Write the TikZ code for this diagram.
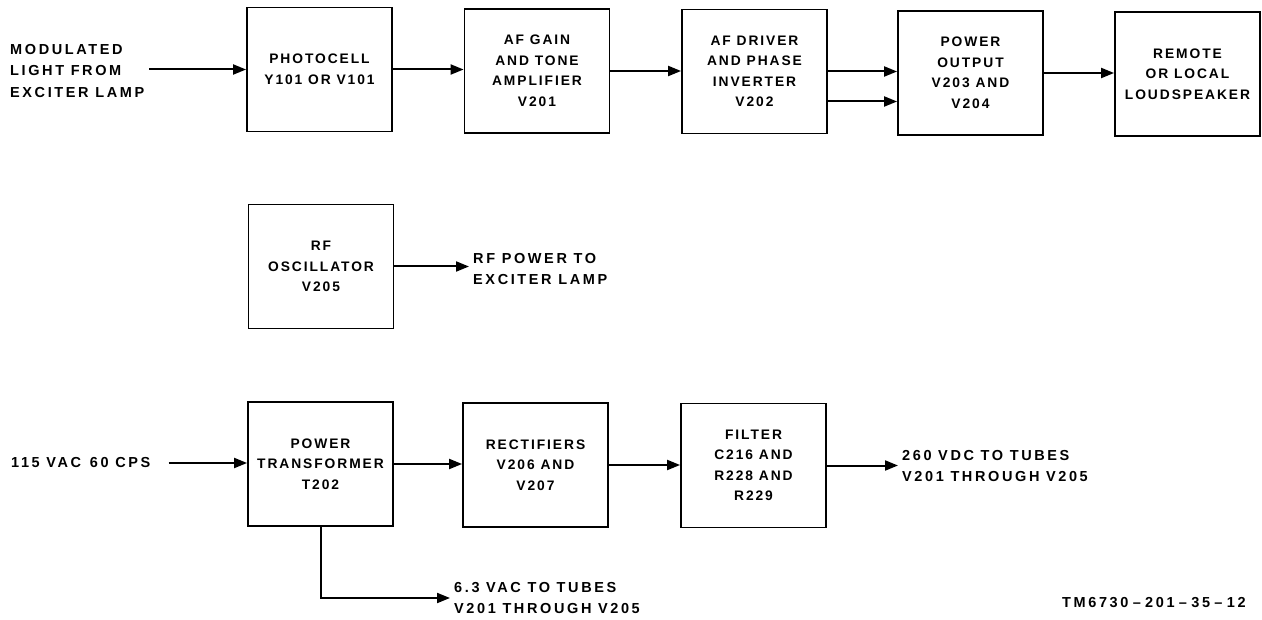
\documentclass[tikz,border=0pt]{standalone}
\usepackage{fontspec}
\setmainfont{Liberation Sans}[LetterSpace=18]
\newfontfamily\boxfont{Liberation Sans}[LetterSpace=14]
\usetikzlibrary{arrows.meta,calc}
\begin{document}
\begin{tikzpicture}[x=1pt,y=-1pt,
  blk/.style={draw,line width=1.8pt,minimum width=145pt,minimum height=124pt,inner sep=0pt,align=center,
    font=\boxfont\bfseries\fontsize{13.8}{20.5}\selectfont},
  lbl/.style={align=left,inner sep=4pt,font=\bfseries\fontsize{14.5}{21.5}\selectfont},
  arr/.style={line width=2pt,-{Triangle[length=13pt,width=10pt]}},
  ln/.style={line width=2pt}]
\useasboundingbox (0,0) rectangle (1262,620);
% top row
\node[blk] (pc)  at (319.5,69.5) {PHOTOCELL\\Y101 OR V101};
\node[blk] (afg) at (537,71) {AF GAIN\\AND TONE\\AMPLIFIER\\V201};
\node[blk] (afd) at (754.5,71.5) {AF DRIVER\\AND PHASE\\INVERTER\\V202};
\node[blk] (po)  at (970.5,73) {POWER\\OUTPUT\\V203 AND\\V204};
\node[blk] (ls)  at (1187.5,74) {REMOTE\\OR LOCAL\\LOUDSPEAKER};
\node[lbl,anchor=west] (in) at (6,71) {MODULATED\\LIGHT FROM\\EXCITER LAMP};
\draw[arr] ([xshift=1pt]in.east |- pc.west) -- (pc.west);
\draw[arr] (pc.east) -- (pc.east -| afg.west);
\draw[arr] (afg.east) -- (afg.east -| afd.west);
\draw[arr] (afd.east) -- (afd.east -| po.west);
\draw[arr] ($(afd.east)+(0,30)$) -- ($(afd.east -| po.west)+(0,30)$);
\draw[arr] (po.east) -- (po.east -| ls.west);
% middle
\node[blk] (rf) at (321,266.5) {RF\\OSCILLATOR\\V205};
\node[lbl,anchor=west] (rfo) at (469,269) {RF POWER TO\\EXCITER LAMP};
\draw[arr] (rf.east) -- (rf.east -| rfo.west);
% bottom row
\node[blk] (pt)   at (320.5,464) {POWER\\TRANSFORMER\\T202};
\node[blk] (rect) at (535.5,465) {RECTIFIERS\\V206 AND\\V207};
\node[blk] (filt) at (753.5,465.5) {FILTER\\C216 AND\\R228 AND\\R229};
\node[lbl,anchor=west] (vin) at (7,463) {115 VAC\hspace{0.6em}60 CPS};
\draw[arr] ([xshift=14pt]vin.east) -- (vin.east -| pt.west);
\draw[arr] (pt.east) -- (pt.east -| rect.west);
\draw[arr] (rect.east) -- (rect.east -| filt.west);
\node[lbl,anchor=west] (vdc) at (898,466) {260 VDC TO TUBES\\V201 THROUGH V205};
\draw[arr] (filt.east) -- (filt.east -| vdc.west);
\node[lbl,anchor=west] (vac) at (450,598) {6.3 VAC TO TUBES\\V201 THROUGH V205};
\draw[arr] (pt.south) |- (vac.west);
\node[lbl,anchor=west,inner sep=0pt] (tm) at (1062,603) {TM6730\hspace{0.3em}--\hspace{0.3em}201\hspace{0.3em}--\hspace{0.3em}35\hspace{0.3em}--\hspace{0.3em}12};
\end{tikzpicture}
\end{document}
